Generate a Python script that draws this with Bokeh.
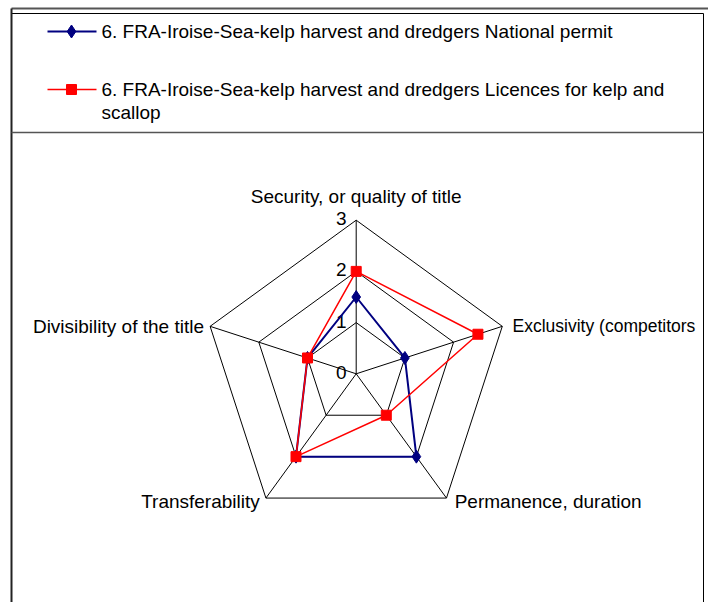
import numpy as np
from bokeh.plotting import figure
from bokeh.models import Range1d
from bokeh.core.properties import value
from bokeh.embed import file_html
from bokeh.resources import INLINE

# ---- data ----
categories = ["Security, or quality of title", "Exclusivity  (competitors",
              "Permanence, duration", "Transferability", "Divisibility of the title"]
series_names = ["6. FRA-Iroise-Sea-kelp harvest and dredgers National  permit",
                "6. FRA-Iroise-Sea-kelp harvest and dredgers Licences for kelp and\nscallop"]
national_permit = [1.5, 1, 2, 2, 1]
licences = [2, 2.5, 1, 2, 1]
tick_values = [0, 1, 2, 3]
tick_labels = ["0", "1", "2", "3"]
r_max = 3

# ---- layout (pixel geometry of screenshot) ----
W, H = 708, 602
OX, OY = 1, 1                     # where the figure's corner lands in the picture
cx, cy, s = 356.7, 374.3, 51.2    # centre in picture px, px per unit
def px(x): return (x - cx) / s
def py(y): return (cy - y) / s

FONT = value("Liberation Sans")
FS = "19px"

p = figure(width=W, height=H, output_backend="svg", toolbar_location=None,
           x_range=Range1d(px(OX), px(OX + W)), y_range=Range1d(py(OY + H), py(OY)),
           min_border=0)
p.axis.visible = False
p.grid.visible = False
p.outline_line_color = None
p.background_fill_color = "white"

n = len(categories)
angles = np.pi / 2 - 2 * np.pi * np.arange(n) / n

def polar(vals):
    v = np.asarray(vals, dtype=float)
    return v * np.cos(angles), v * np.sin(angles)

# frame
p.line([px(12), px(716)], [py(9), py(9)], line_color="#555555", line_width=2)
p.line([px(12), px(704)], [py(14), py(14)], line_color="black", line_width=1)
p.line([px(12), px(12)], [py(9), py(612)], line_color="#222222", line_width=2)
p.line([px(704), px(704)], [py(14), py(612)], line_color="black", line_width=1)
p.line([px(12), px(704)], [py(133), py(133)], line_color="#555555", line_width=1.5)

# grid pentagons
for t in tick_values[1:]:
    gx, gy = polar([t] * n)
    p.line(list(gx) + [gx[0]], list(gy) + [gy[0]], line_color="black", line_width=1)
# spokes
sx, sy = polar([r_max] * n)
for i in range(n):
    p.line([0, sx[i]], [0, sy[i]], line_color="black", line_width=1)

# tick labels
p.text(x=[-0.19] * len(tick_values), y=[t + 0.03 for t in tick_values], text=tick_labels,
       text_align="right", text_baseline="middle", text_font=FONT,
       text_font_size=FS, text_color="black")

# category labels
lx, ly = polar([r_max] * n)
p.text(x=[lx[0]], y=[ly[0] + 0.47], text=[categories[0]], text_align="center",
       text_baseline="middle", text_font=FONT, text_font_size=FS)
p.text(x=[lx[1] + 0.2], y=[ly[1]], text=[categories[1]], text_align="left",
       text_baseline="middle", text_font=FONT, text_font_size="17.5px")
p.text(x=[lx[2] + 0.16], y=[ly[2] - 0.07], text=[categories[2]], text_align="left",
       text_baseline="middle", text_font=FONT, text_font_size=FS)
p.text(x=[lx[3] - 0.12], y=[ly[3] - 0.07], text=[categories[3]], text_align="right",
       text_baseline="middle", text_font=FONT, text_font_size=FS)
p.text(x=[lx[4] - 0.12], y=[ly[4]], text=[categories[4]], text_align="right",
       text_baseline="middle", text_font=FONT, text_font_size=FS)

# series
bx, by = polar(national_permit)
p.line(list(bx) + [bx[0]], list(by) + [by[0]], line_color="#000080", line_width=2)
p.scatter(bx, by, marker="diamond", size=13, fill_color="#000080", line_color="#000080")

rx, ry = polar(licences)
p.line(list(rx) + [rx[0]], list(ry) + [ry[0]], line_color="#ff0000", line_width=1.5)
p.scatter(rx, ry, marker="square", size=10, fill_color="#ff0000", line_color="#ff0000")

# legend (manual)
p.line([px(48), px(97)], [py(32), py(32)], line_color="#000080", line_width=2)
p.scatter([px(72)], [py(32)], marker="diamond", size=13, fill_color="#000080", line_color="#000080")
p.text(x=[px(102)], y=[py(32)], text=[series_names[0]], text_align="left",
       text_baseline="middle", text_font=FONT, text_font_size=FS)

p.line([px(48), px(97)], [py(90), py(90)], line_color="#ff0000", line_width=1.5)
p.scatter([px(72)], [py(90)], marker="square", size=10, fill_color="#ff0000", line_color="#ff0000")
l1, l2 = series_names[1].split("\n")
p.text(x=[px(102), px(102)], y=[py(90), py(113)], text=[l1, l2], text_align="left",
       text_baseline="middle", text_font=FONT, text_font_size=FS)

open("out.html", "w").write(file_html(p, INLINE))
